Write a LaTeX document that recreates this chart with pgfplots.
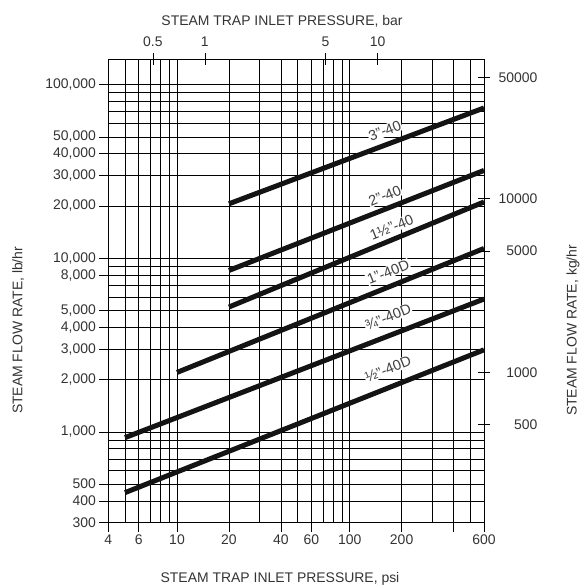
\documentclass[border=0pt]{standalone}
\usepackage{fontspec}
\setmainfont{Liberation Sans}
\usepackage{pgfplots}
\pgfplotsset{compat=1.18}

\newcommand\tl{\fontsize{14}{16}\selectfont}
\newcommand\lbl{\fontsize{14.5}{16}\selectfont}

\begin{document}
\begin{tikzpicture}[x=1bp,y=1bp]
\path[use as bounding box] (-108.3,-65.3) rectangle (475.7,522.7);
% main axis: psi / lb/hr
\begin{axis}[
  at={(0,0)}, anchor=south west,
  scale only axis, width=375.7bp, height=463.4bp,
  xmode=log, ymode=log,
  xmin=4, xmax=600, ymin=300, ymax=140000,
  xtick={4,6,10,20,40,60,100,200,400,600},
  xticklabels={4,6,10,20,40,60,100,200,,600},
  minor xtick={5,7,8,9,30,50,70,80,90,300,500},
  ytick={300,400,500,1000,2000,3000,4000,5000,8000,10000,20000,30000,40000,50000,100000},
  yticklabels={300,400,500,{1,000},{2,000},{3,000},{4,000},{5,000},{8,000},{10,000},{20,000},{30,000},{40,000},{50,000},{100,000}},
  minor ytick={600,700,800,900,6000,7000,9000,60000,70000,80000,90000},
  grid=both,
  major grid style={black, line width=0.5bp},
  minor grid style={black, line width=0.5bp},
  tick align=outside, major tick length=9bp, minor tick length=0pt,
  xtick pos=left, ytick pos=left,
  tick style={black, line width=0.5bp},
  axis line style={black, line width=0.6bp},
  ticklabel style={font=\tl, text=black!80},
  xlabel={STEAM TRAP INLET PRESSURE, psi},
  ylabel={STEAM FLOW RATE, lb/hr},
  xlabel style={at={(axis description cs:0.457,-0.122)}, anchor=center, font=\tl, text=black!80},
  ylabel style={at={(axis description cs:-0.240,0.415)}, anchor=center, rotate=0, font=\tl, text=black!80},
]
\addplot[line width=5bp, black!92] coordinates {(20,20600) (600,73400)};
\addplot[line width=5bp, black!92] coordinates {(20,8510) (600,32060)};
\addplot[line width=5bp, black!92] coordinates {(20,5240) (600,21100)};
\addplot[line width=5bp, black!92] coordinates {(10,2200) (600,11390)};
\addplot[line width=5bp, black!92] coordinates {(5,927) (600,5825)};
\addplot[line width=5bp, black!92] coordinates {(5,447) (600,2970)};
\begin{scope}[every node/.style={rotate=22, fill=white, inner sep=0.8bp, font=\lbl, text=black!75}]
\node at (axis cs:160,54300) {3"-40};
\node at (axis cs:160,22900) {2"-40};
\node at (axis cs:175,15100) {1½"-40};
\node at (axis cs:167,8330) {1"-40D};
\node at (axis cs:167,4570) {¾"-40D};
\node at (axis cs:167,2300) {½"-40D};
\end{scope}
\end{axis}
% secondary axis: bar / kg/hr
\begin{axis}[
  at={(0,0)}, anchor=south west,
  scale only axis, width=375.7bp, height=463.4bp,
  xmode=log, ymode=log,
  xmin=0.275862, xmax=41.37931, ymin=136.077, ymax=63502.6,
  axis x line*=top, axis y line*=right,
  xtick={0.5,1,5,10}, xticklabels={0.5,1,5,10},
  ytick={500,1000,5000,10000,50000}, yticklabels={500,1000,5000,10000,50000},
  tick align=center, major tick length=12bp, minor tick length=0pt,
  tick style={black, line width=0.5bp},
  axis line style={black, line width=0.6bp},
  ticklabel style={font=\tl, text=black!80},
  xticklabel style={yshift=3bp},
  yticklabel style={anchor=east, xshift=51bp},
  xlabel={STEAM TRAP INLET PRESSURE, bar},
  ylabel={STEAM FLOW RATE, kg/hr},
  xlabel style={at={(axis description cs:0.4623,1.0826)}, anchor=center, font=\tl, text=black!80},
  ylabel style={at={(axis description cs:1.2369,0.4148)}, anchor=center, rotate=0, font=\tl, text=black!80},
]
\addplot[draw=none] coordinates {(1,1000)};
\end{axis}
\end{tikzpicture}
\end{document}
